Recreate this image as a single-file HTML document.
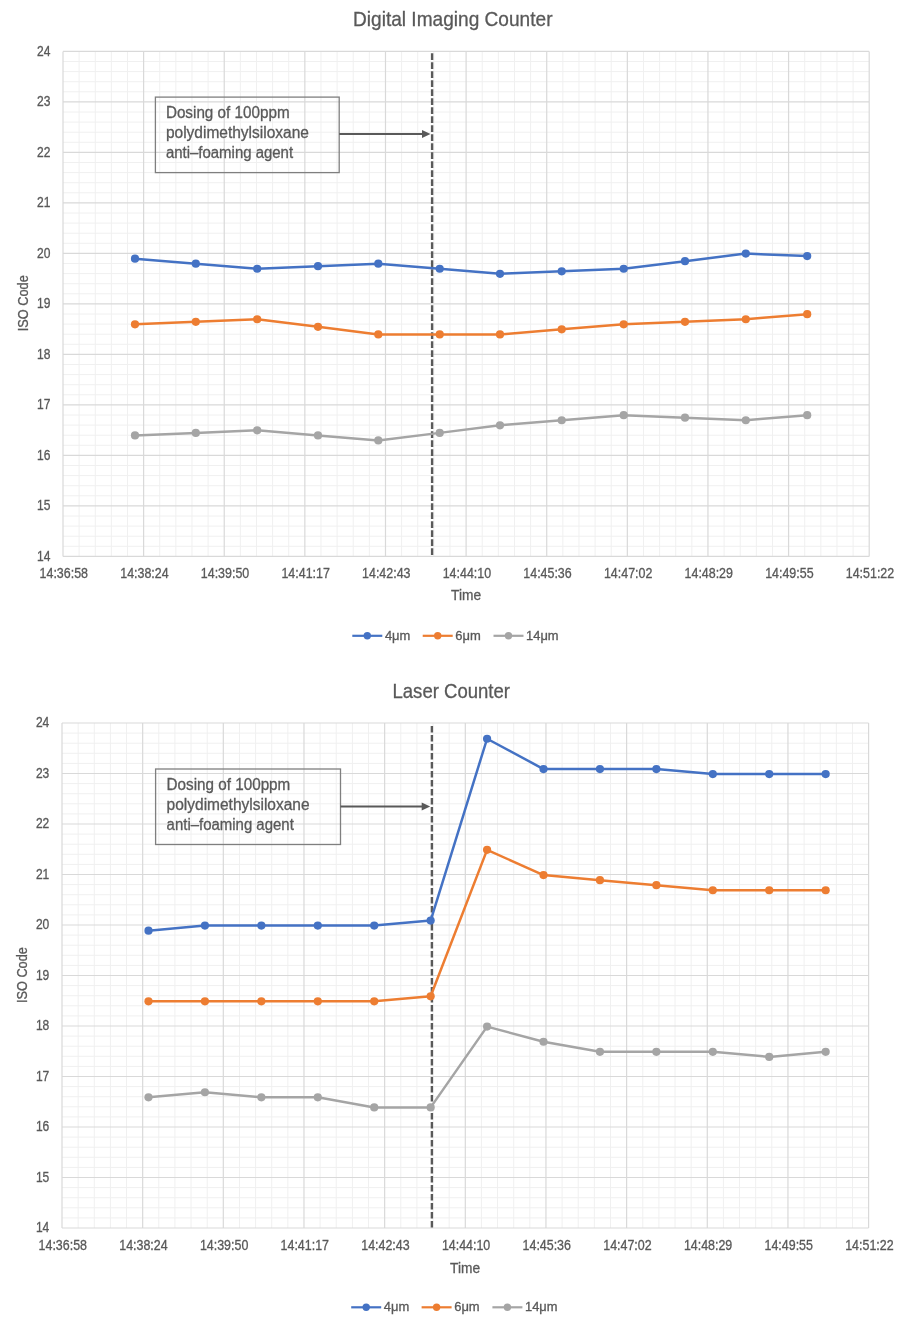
<!DOCTYPE html>
<html><head><meta charset="utf-8"><title>Charts</title>
<style>html,body{margin:0;padding:0;background:#fff;}svg{display:block;filter:blur(0.35px);}</style></head>
<body><svg width="900" height="1321" viewBox="0 0 900 1321" font-family='"Liberation Sans", sans-serif' fill="#595959">
<style>text{stroke:#595959;stroke-width:0.3px;}</style>
<rect width="900" height="1321" fill="#fff"/>
<path d="M79.12 51.4V556.4M63 61.5H869.2M95.25 51.4V556.4M63 71.6H869.2M111.37 51.4V556.4M63 81.7H869.2M127.5 51.4V556.4M63 91.8H869.2M159.74 51.4V556.4M63 112H869.2M175.87 51.4V556.4M63 122.1H869.2M191.99 51.4V556.4M63 132.2H869.2M208.12 51.4V556.4M63 142.3H869.2M240.36 51.4V556.4M63 162.5H869.2M256.49 51.4V556.4M63 172.6H869.2M272.61 51.4V556.4M63 182.7H869.2M288.74 51.4V556.4M63 192.8H869.2M320.98 51.4V556.4M63 213H869.2M337.11 51.4V556.4M63 223.1H869.2M353.23 51.4V556.4M63 233.2H869.2M369.36 51.4V556.4M63 243.3H869.2M401.6 51.4V556.4M63 263.5H869.2M417.73 51.4V556.4M63 273.6H869.2M433.85 51.4V556.4M63 283.7H869.2M449.98 51.4V556.4M63 293.8H869.2M482.22 51.4V556.4M63 314H869.2M498.35 51.4V556.4M63 324.1H869.2M514.47 51.4V556.4M63 334.2H869.2M530.6 51.4V556.4M63 344.3H869.2M562.84 51.4V556.4M63 364.5H869.2M578.97 51.4V556.4M63 374.6H869.2M595.09 51.4V556.4M63 384.7H869.2M611.22 51.4V556.4M63 394.8H869.2M643.46 51.4V556.4M63 415H869.2M659.59 51.4V556.4M63 425.1H869.2M675.71 51.4V556.4M63 435.2H869.2M691.84 51.4V556.4M63 445.3H869.2M724.08 51.4V556.4M63 465.5H869.2M740.21 51.4V556.4M63 475.6H869.2M756.33 51.4V556.4M63 485.7H869.2M772.46 51.4V556.4M63 495.8H869.2M804.7 51.4V556.4M63 516H869.2M820.83 51.4V556.4M63 526.1H869.2M836.95 51.4V556.4M63 536.2H869.2M853.08 51.4V556.4M63 546.3H869.2" stroke="#f0f0f0" stroke-width="1.0" fill="none"/>
<path d="M63 51.4V556.4M63 51.4H869.2M143.62 51.4V556.4M63 101.9H869.2M224.24 51.4V556.4M63 152.4H869.2M304.86 51.4V556.4M63 202.9H869.2M385.48 51.4V556.4M63 253.4H869.2M466.1 51.4V556.4M63 303.9H869.2M546.72 51.4V556.4M63 354.4H869.2M627.34 51.4V556.4M63 404.9H869.2M707.96 51.4V556.4M63 455.4H869.2M788.58 51.4V556.4M63 505.9H869.2M869.2 51.4V556.4M63 556.4H869.2" stroke="#d9d9d9" stroke-width="1.2" fill="none"/>
<text x="353" y="26.3" font-size="20.2" textLength="199.5" lengthAdjust="spacingAndGlyphs">Digital Imaging Counter</text>
<text x="50.5" y="560.7" font-size="13.8" text-anchor="end" textLength="13.4" lengthAdjust="spacingAndGlyphs">14</text>
<text x="50.5" y="510.2" font-size="13.8" text-anchor="end" textLength="13.4" lengthAdjust="spacingAndGlyphs">15</text>
<text x="50.5" y="459.7" font-size="13.8" text-anchor="end" textLength="13.4" lengthAdjust="spacingAndGlyphs">16</text>
<text x="50.5" y="409.2" font-size="13.8" text-anchor="end" textLength="13.4" lengthAdjust="spacingAndGlyphs">17</text>
<text x="50.5" y="358.7" font-size="13.8" text-anchor="end" textLength="13.4" lengthAdjust="spacingAndGlyphs">18</text>
<text x="50.5" y="308.2" font-size="13.8" text-anchor="end" textLength="13.4" lengthAdjust="spacingAndGlyphs">19</text>
<text x="50.5" y="257.7" font-size="13.8" text-anchor="end" textLength="13.4" lengthAdjust="spacingAndGlyphs">20</text>
<text x="50.5" y="207.2" font-size="13.8" text-anchor="end" textLength="13.4" lengthAdjust="spacingAndGlyphs">21</text>
<text x="50.5" y="156.7" font-size="13.8" text-anchor="end" textLength="13.4" lengthAdjust="spacingAndGlyphs">22</text>
<text x="50.5" y="106.2" font-size="13.8" text-anchor="end" textLength="13.4" lengthAdjust="spacingAndGlyphs">23</text>
<text x="50.5" y="55.7" font-size="13.8" text-anchor="end" textLength="13.4" lengthAdjust="spacingAndGlyphs">24</text>
<text x="39.6" y="578" font-size="13.8" textLength="48.4" lengthAdjust="spacingAndGlyphs">14:36:58</text>
<text x="120.22" y="578" font-size="13.8" textLength="48.4" lengthAdjust="spacingAndGlyphs">14:38:24</text>
<text x="200.84" y="578" font-size="13.8" textLength="48.4" lengthAdjust="spacingAndGlyphs">14:39:50</text>
<text x="281.46" y="578" font-size="13.8" textLength="48.4" lengthAdjust="spacingAndGlyphs">14:41:17</text>
<text x="362.08" y="578" font-size="13.8" textLength="48.4" lengthAdjust="spacingAndGlyphs">14:42:43</text>
<text x="442.7" y="578" font-size="13.8" textLength="48.4" lengthAdjust="spacingAndGlyphs">14:44:10</text>
<text x="523.32" y="578" font-size="13.8" textLength="48.4" lengthAdjust="spacingAndGlyphs">14:45:36</text>
<text x="603.94" y="578" font-size="13.8" textLength="48.4" lengthAdjust="spacingAndGlyphs">14:47:02</text>
<text x="684.56" y="578" font-size="13.8" textLength="48.4" lengthAdjust="spacingAndGlyphs">14:48:29</text>
<text x="765.18" y="578" font-size="13.8" textLength="48.4" lengthAdjust="spacingAndGlyphs">14:49:55</text>
<text x="845.8" y="578" font-size="13.8" textLength="48.4" lengthAdjust="spacingAndGlyphs">14:51:22</text>
<text x="451.1" y="600.2" font-size="14" textLength="30" lengthAdjust="spacingAndGlyphs">Time</text>
<text transform="translate(28.2 303.2) rotate(-90)" x="-28" y="0" font-size="14" textLength="56" lengthAdjust="spacingAndGlyphs">ISO Code</text>
<rect x="155.4" y="97.1" width="183.8" height="75.5" fill="none" stroke="#7f7f7f" stroke-width="1.3"/>
<text x="165.9" y="117.7" font-size="15.8" textLength="123.7" lengthAdjust="spacingAndGlyphs">Dosing of 100ppm</text>
<text x="165.9" y="137.7" font-size="15.8" textLength="143" lengthAdjust="spacingAndGlyphs">polydimethylsiloxane</text>
<text x="165.9" y="157.7" font-size="15.8" textLength="127.2" lengthAdjust="spacingAndGlyphs">anti–foaming agent</text>
<path d="M339.2 134H423.5" stroke="#595959" stroke-width="2" fill="none"/>
<path d="M422 130L430.5 134L422 138Z" fill="#595959"/>
<path d="M432.1 53.3V556.4" stroke="#595959" stroke-width="2.4" stroke-dasharray="6.6 2.4" fill="none"/>
<path d="M135 435.4L195.8 432.88L257.2 430.35L318 435.4L378.3 440.45L439.7 432.88L500 425.3L561.7 420.25L623.7 415.2L685 417.72L745.8 420.25L807.2 415.2" stroke="#A5A5A5" stroke-width="2.5" fill="none" stroke-linejoin="round" stroke-linecap="round"/>
<circle cx="135" cy="435.4" r="4.1" fill="#A5A5A5"/>
<circle cx="195.8" cy="432.88" r="4.1" fill="#A5A5A5"/>
<circle cx="257.2" cy="430.35" r="4.1" fill="#A5A5A5"/>
<circle cx="318" cy="435.4" r="4.1" fill="#A5A5A5"/>
<circle cx="378.3" cy="440.45" r="4.1" fill="#A5A5A5"/>
<circle cx="439.7" cy="432.88" r="4.1" fill="#A5A5A5"/>
<circle cx="500" cy="425.3" r="4.1" fill="#A5A5A5"/>
<circle cx="561.7" cy="420.25" r="4.1" fill="#A5A5A5"/>
<circle cx="623.7" cy="415.2" r="4.1" fill="#A5A5A5"/>
<circle cx="685" cy="417.72" r="4.1" fill="#A5A5A5"/>
<circle cx="745.8" cy="420.25" r="4.1" fill="#A5A5A5"/>
<circle cx="807.2" cy="415.2" r="4.1" fill="#A5A5A5"/>
<path d="M135 324.3L195.8 321.78L257.2 319.25L318 326.82L378.3 334.4L439.7 334.4L500 334.4L561.7 329.35L623.7 324.3L685 321.78L745.8 319.25L807.2 314.2" stroke="#ED7D31" stroke-width="2.5" fill="none" stroke-linejoin="round" stroke-linecap="round"/>
<circle cx="135" cy="324.3" r="4.1" fill="#ED7D31"/>
<circle cx="195.8" cy="321.78" r="4.1" fill="#ED7D31"/>
<circle cx="257.2" cy="319.25" r="4.1" fill="#ED7D31"/>
<circle cx="318" cy="326.82" r="4.1" fill="#ED7D31"/>
<circle cx="378.3" cy="334.4" r="4.1" fill="#ED7D31"/>
<circle cx="439.7" cy="334.4" r="4.1" fill="#ED7D31"/>
<circle cx="500" cy="334.4" r="4.1" fill="#ED7D31"/>
<circle cx="561.7" cy="329.35" r="4.1" fill="#ED7D31"/>
<circle cx="623.7" cy="324.3" r="4.1" fill="#ED7D31"/>
<circle cx="685" cy="321.78" r="4.1" fill="#ED7D31"/>
<circle cx="745.8" cy="319.25" r="4.1" fill="#ED7D31"/>
<circle cx="807.2" cy="314.2" r="4.1" fill="#ED7D31"/>
<path d="M135 258.65L195.8 263.7L257.2 268.75L318 266.22L378.3 263.7L439.7 268.75L500 273.8L561.7 271.28L623.7 268.75L685 261.17L745.8 253.6L807.2 256.12" stroke="#4472C4" stroke-width="2.5" fill="none" stroke-linejoin="round" stroke-linecap="round"/>
<circle cx="135" cy="258.65" r="4.1" fill="#4472C4"/>
<circle cx="195.8" cy="263.7" r="4.1" fill="#4472C4"/>
<circle cx="257.2" cy="268.75" r="4.1" fill="#4472C4"/>
<circle cx="318" cy="266.22" r="4.1" fill="#4472C4"/>
<circle cx="378.3" cy="263.7" r="4.1" fill="#4472C4"/>
<circle cx="439.7" cy="268.75" r="4.1" fill="#4472C4"/>
<circle cx="500" cy="273.8" r="4.1" fill="#4472C4"/>
<circle cx="561.7" cy="271.28" r="4.1" fill="#4472C4"/>
<circle cx="623.7" cy="268.75" r="4.1" fill="#4472C4"/>
<circle cx="685" cy="261.17" r="4.1" fill="#4472C4"/>
<circle cx="745.8" cy="253.6" r="4.1" fill="#4472C4"/>
<circle cx="807.2" cy="256.12" r="4.1" fill="#4472C4"/>
<path d="M352.3 635.8H382.3" stroke="#4472C4" stroke-width="2.2" fill="none"/>
<circle cx="367.3" cy="635.8" r="3.7" fill="#4472C4"/>
<text x="384.9" y="639.5" font-size="12.5" textLength="25.5" lengthAdjust="spacingAndGlyphs">4μm</text>
<path d="M422.7 635.8H452.7" stroke="#ED7D31" stroke-width="2.2" fill="none"/>
<circle cx="437.7" cy="635.8" r="3.7" fill="#ED7D31"/>
<text x="455.3" y="639.5" font-size="12.5" textLength="25.5" lengthAdjust="spacingAndGlyphs">6μm</text>
<path d="M493.5 635.8H523.5" stroke="#A5A5A5" stroke-width="2.2" fill="none"/>
<circle cx="508.5" cy="635.8" r="3.7" fill="#A5A5A5"/>
<text x="526.1" y="639.5" font-size="12.5" textLength="32.5" lengthAdjust="spacingAndGlyphs">14μm</text>
<path d="M78.13 723V1228M62 733.1H868.6M94.26 723V1228M62 743.2H868.6M110.4 723V1228M62 753.3H868.6M126.53 723V1228M62 763.4H868.6M158.79 723V1228M62 783.6H868.6M174.92 723V1228M62 793.7H868.6M191.06 723V1228M62 803.8H868.6M207.19 723V1228M62 813.9H868.6M239.45 723V1228M62 834.1H868.6M255.58 723V1228M62 844.2H868.6M271.72 723V1228M62 854.3H868.6M287.85 723V1228M62 864.4H868.6M320.11 723V1228M62 884.6H868.6M336.24 723V1228M62 894.7H868.6M352.38 723V1228M62 904.8H868.6M368.51 723V1228M62 914.9H868.6M400.77 723V1228M62 935.1H868.6M416.9 723V1228M62 945.2H868.6M433.04 723V1228M62 955.3H868.6M449.17 723V1228M62 965.4H868.6M481.43 723V1228M62 985.6H868.6M497.56 723V1228M62 995.7H868.6M513.7 723V1228M62 1005.8H868.6M529.83 723V1228M62 1015.9H868.6M562.09 723V1228M62 1036.1H868.6M578.22 723V1228M62 1046.2H868.6M594.36 723V1228M62 1056.3H868.6M610.49 723V1228M62 1066.4H868.6M642.75 723V1228M62 1086.6H868.6M658.88 723V1228M62 1096.7H868.6M675.02 723V1228M62 1106.8H868.6M691.15 723V1228M62 1116.9H868.6M723.41 723V1228M62 1137.1H868.6M739.54 723V1228M62 1147.2H868.6M755.68 723V1228M62 1157.3H868.6M771.81 723V1228M62 1167.4H868.6M804.07 723V1228M62 1187.6H868.6M820.2 723V1228M62 1197.7H868.6M836.34 723V1228M62 1207.8H868.6M852.47 723V1228M62 1217.9H868.6" stroke="#f0f0f0" stroke-width="1.0" fill="none"/>
<path d="M62 723V1228M62 723H868.6M142.66 723V1228M62 773.5H868.6M223.32 723V1228M62 824H868.6M303.98 723V1228M62 874.5H868.6M384.64 723V1228M62 925H868.6M465.3 723V1228M62 975.5H868.6M545.96 723V1228M62 1026H868.6M626.62 723V1228M62 1076.5H868.6M707.28 723V1228M62 1127H868.6M787.94 723V1228M62 1177.5H868.6M868.6 723V1228M62 1228H868.6" stroke="#d9d9d9" stroke-width="1.2" fill="none"/>
<text x="392.5" y="698.2" font-size="20.2" textLength="117.5" lengthAdjust="spacingAndGlyphs">Laser Counter</text>
<text x="49.3" y="1232.3" font-size="13.8" text-anchor="end" textLength="13.4" lengthAdjust="spacingAndGlyphs">14</text>
<text x="49.3" y="1181.8" font-size="13.8" text-anchor="end" textLength="13.4" lengthAdjust="spacingAndGlyphs">15</text>
<text x="49.3" y="1131.3" font-size="13.8" text-anchor="end" textLength="13.4" lengthAdjust="spacingAndGlyphs">16</text>
<text x="49.3" y="1080.8" font-size="13.8" text-anchor="end" textLength="13.4" lengthAdjust="spacingAndGlyphs">17</text>
<text x="49.3" y="1030.3" font-size="13.8" text-anchor="end" textLength="13.4" lengthAdjust="spacingAndGlyphs">18</text>
<text x="49.3" y="979.8" font-size="13.8" text-anchor="end" textLength="13.4" lengthAdjust="spacingAndGlyphs">19</text>
<text x="49.3" y="929.3" font-size="13.8" text-anchor="end" textLength="13.4" lengthAdjust="spacingAndGlyphs">20</text>
<text x="49.3" y="878.8" font-size="13.8" text-anchor="end" textLength="13.4" lengthAdjust="spacingAndGlyphs">21</text>
<text x="49.3" y="828.3" font-size="13.8" text-anchor="end" textLength="13.4" lengthAdjust="spacingAndGlyphs">22</text>
<text x="49.3" y="777.8" font-size="13.8" text-anchor="end" textLength="13.4" lengthAdjust="spacingAndGlyphs">23</text>
<text x="49.3" y="727.3" font-size="13.8" text-anchor="end" textLength="13.4" lengthAdjust="spacingAndGlyphs">24</text>
<text x="38.6" y="1250" font-size="13.8" textLength="48.4" lengthAdjust="spacingAndGlyphs">14:36:58</text>
<text x="119.26" y="1250" font-size="13.8" textLength="48.4" lengthAdjust="spacingAndGlyphs">14:38:24</text>
<text x="199.92" y="1250" font-size="13.8" textLength="48.4" lengthAdjust="spacingAndGlyphs">14:39:50</text>
<text x="280.58" y="1250" font-size="13.8" textLength="48.4" lengthAdjust="spacingAndGlyphs">14:41:17</text>
<text x="361.24" y="1250" font-size="13.8" textLength="48.4" lengthAdjust="spacingAndGlyphs">14:42:43</text>
<text x="441.9" y="1250" font-size="13.8" textLength="48.4" lengthAdjust="spacingAndGlyphs">14:44:10</text>
<text x="522.56" y="1250" font-size="13.8" textLength="48.4" lengthAdjust="spacingAndGlyphs">14:45:36</text>
<text x="603.22" y="1250" font-size="13.8" textLength="48.4" lengthAdjust="spacingAndGlyphs">14:47:02</text>
<text x="683.88" y="1250" font-size="13.8" textLength="48.4" lengthAdjust="spacingAndGlyphs">14:48:29</text>
<text x="764.54" y="1250" font-size="13.8" textLength="48.4" lengthAdjust="spacingAndGlyphs">14:49:55</text>
<text x="845.2" y="1250" font-size="13.8" textLength="48.4" lengthAdjust="spacingAndGlyphs">14:51:22</text>
<text x="450.1" y="1272.5" font-size="14" textLength="30" lengthAdjust="spacingAndGlyphs">Time</text>
<text transform="translate(26.8 975.1) rotate(-90)" x="-28" y="0" font-size="14" textLength="56" lengthAdjust="spacingAndGlyphs">ISO Code</text>
<rect x="155.6" y="769" width="184.9" height="75.5" fill="none" stroke="#7f7f7f" stroke-width="1.3"/>
<text x="166.6" y="789.7" font-size="15.8" textLength="123.7" lengthAdjust="spacingAndGlyphs">Dosing of 100ppm</text>
<text x="166.6" y="809.7" font-size="15.8" textLength="143" lengthAdjust="spacingAndGlyphs">polydimethylsiloxane</text>
<text x="166.6" y="829.7" font-size="15.8" textLength="127.2" lengthAdjust="spacingAndGlyphs">anti–foaming agent</text>
<path d="M340.5 806.5H423.2" stroke="#595959" stroke-width="2" fill="none"/>
<path d="M421.7 802.5L430.2 806.5L421.7 810.5Z" fill="#595959"/>
<path d="M431.9 725.9V1228" stroke="#595959" stroke-width="2.4" stroke-dasharray="6.6 2.4" fill="none"/>
<path d="M148.5 1097.3L204.93 1092.25L261.36 1097.3L317.79 1097.3L374.22 1107.4L430.65 1107.4L487.08 1026.6L543.51 1041.75L599.94 1051.85L656.37 1051.85L712.8 1051.85L769.23 1056.9L825.66 1051.85" stroke="#A5A5A5" stroke-width="2.5" fill="none" stroke-linejoin="round" stroke-linecap="round"/>
<circle cx="148.5" cy="1097.3" r="4.1" fill="#A5A5A5"/>
<circle cx="204.93" cy="1092.25" r="4.1" fill="#A5A5A5"/>
<circle cx="261.36" cy="1097.3" r="4.1" fill="#A5A5A5"/>
<circle cx="317.79" cy="1097.3" r="4.1" fill="#A5A5A5"/>
<circle cx="374.22" cy="1107.4" r="4.1" fill="#A5A5A5"/>
<circle cx="430.65" cy="1107.4" r="4.1" fill="#A5A5A5"/>
<circle cx="487.08" cy="1026.6" r="4.1" fill="#A5A5A5"/>
<circle cx="543.51" cy="1041.75" r="4.1" fill="#A5A5A5"/>
<circle cx="599.94" cy="1051.85" r="4.1" fill="#A5A5A5"/>
<circle cx="656.37" cy="1051.85" r="4.1" fill="#A5A5A5"/>
<circle cx="712.8" cy="1051.85" r="4.1" fill="#A5A5A5"/>
<circle cx="769.23" cy="1056.9" r="4.1" fill="#A5A5A5"/>
<circle cx="825.66" cy="1051.85" r="4.1" fill="#A5A5A5"/>
<path d="M148.5 1001.35L204.93 1001.35L261.36 1001.35L317.79 1001.35L374.22 1001.35L430.65 996.3L487.08 849.85L543.51 875.1L599.94 880.15L656.37 885.2L712.8 890.25L769.23 890.25L825.66 890.25" stroke="#ED7D31" stroke-width="2.5" fill="none" stroke-linejoin="round" stroke-linecap="round"/>
<circle cx="148.5" cy="1001.35" r="4.1" fill="#ED7D31"/>
<circle cx="204.93" cy="1001.35" r="4.1" fill="#ED7D31"/>
<circle cx="261.36" cy="1001.35" r="4.1" fill="#ED7D31"/>
<circle cx="317.79" cy="1001.35" r="4.1" fill="#ED7D31"/>
<circle cx="374.22" cy="1001.35" r="4.1" fill="#ED7D31"/>
<circle cx="430.65" cy="996.3" r="4.1" fill="#ED7D31"/>
<circle cx="487.08" cy="849.85" r="4.1" fill="#ED7D31"/>
<circle cx="543.51" cy="875.1" r="4.1" fill="#ED7D31"/>
<circle cx="599.94" cy="880.15" r="4.1" fill="#ED7D31"/>
<circle cx="656.37" cy="885.2" r="4.1" fill="#ED7D31"/>
<circle cx="712.8" cy="890.25" r="4.1" fill="#ED7D31"/>
<circle cx="769.23" cy="890.25" r="4.1" fill="#ED7D31"/>
<circle cx="825.66" cy="890.25" r="4.1" fill="#ED7D31"/>
<path d="M148.5 930.65L204.93 925.6L261.36 925.6L317.79 925.6L374.22 925.6L430.65 920.55L487.08 738.75L543.51 769.05L599.94 769.05L656.37 769.05L712.8 774.1L769.23 774.1L825.66 774.1" stroke="#4472C4" stroke-width="2.5" fill="none" stroke-linejoin="round" stroke-linecap="round"/>
<circle cx="148.5" cy="930.65" r="4.1" fill="#4472C4"/>
<circle cx="204.93" cy="925.6" r="4.1" fill="#4472C4"/>
<circle cx="261.36" cy="925.6" r="4.1" fill="#4472C4"/>
<circle cx="317.79" cy="925.6" r="4.1" fill="#4472C4"/>
<circle cx="374.22" cy="925.6" r="4.1" fill="#4472C4"/>
<circle cx="430.65" cy="920.55" r="4.1" fill="#4472C4"/>
<circle cx="487.08" cy="738.75" r="4.1" fill="#4472C4"/>
<circle cx="543.51" cy="769.05" r="4.1" fill="#4472C4"/>
<circle cx="599.94" cy="769.05" r="4.1" fill="#4472C4"/>
<circle cx="656.37" cy="769.05" r="4.1" fill="#4472C4"/>
<circle cx="712.8" cy="774.1" r="4.1" fill="#4472C4"/>
<circle cx="769.23" cy="774.1" r="4.1" fill="#4472C4"/>
<circle cx="825.66" cy="774.1" r="4.1" fill="#4472C4"/>
<path d="M351.2 1307.3H381.2" stroke="#4472C4" stroke-width="2.2" fill="none"/>
<circle cx="366.2" cy="1307.3" r="3.7" fill="#4472C4"/>
<text x="383.8" y="1311" font-size="12.5" textLength="25.5" lengthAdjust="spacingAndGlyphs">4μm</text>
<path d="M421.6 1307.3H451.6" stroke="#ED7D31" stroke-width="2.2" fill="none"/>
<circle cx="436.6" cy="1307.3" r="3.7" fill="#ED7D31"/>
<text x="454.2" y="1311" font-size="12.5" textLength="25.5" lengthAdjust="spacingAndGlyphs">6μm</text>
<path d="M492.4 1307.3H522.4" stroke="#A5A5A5" stroke-width="2.2" fill="none"/>
<circle cx="507.4" cy="1307.3" r="3.7" fill="#A5A5A5"/>
<text x="525" y="1311" font-size="12.5" textLength="32.5" lengthAdjust="spacingAndGlyphs">14μm</text>
</svg></body></html>
